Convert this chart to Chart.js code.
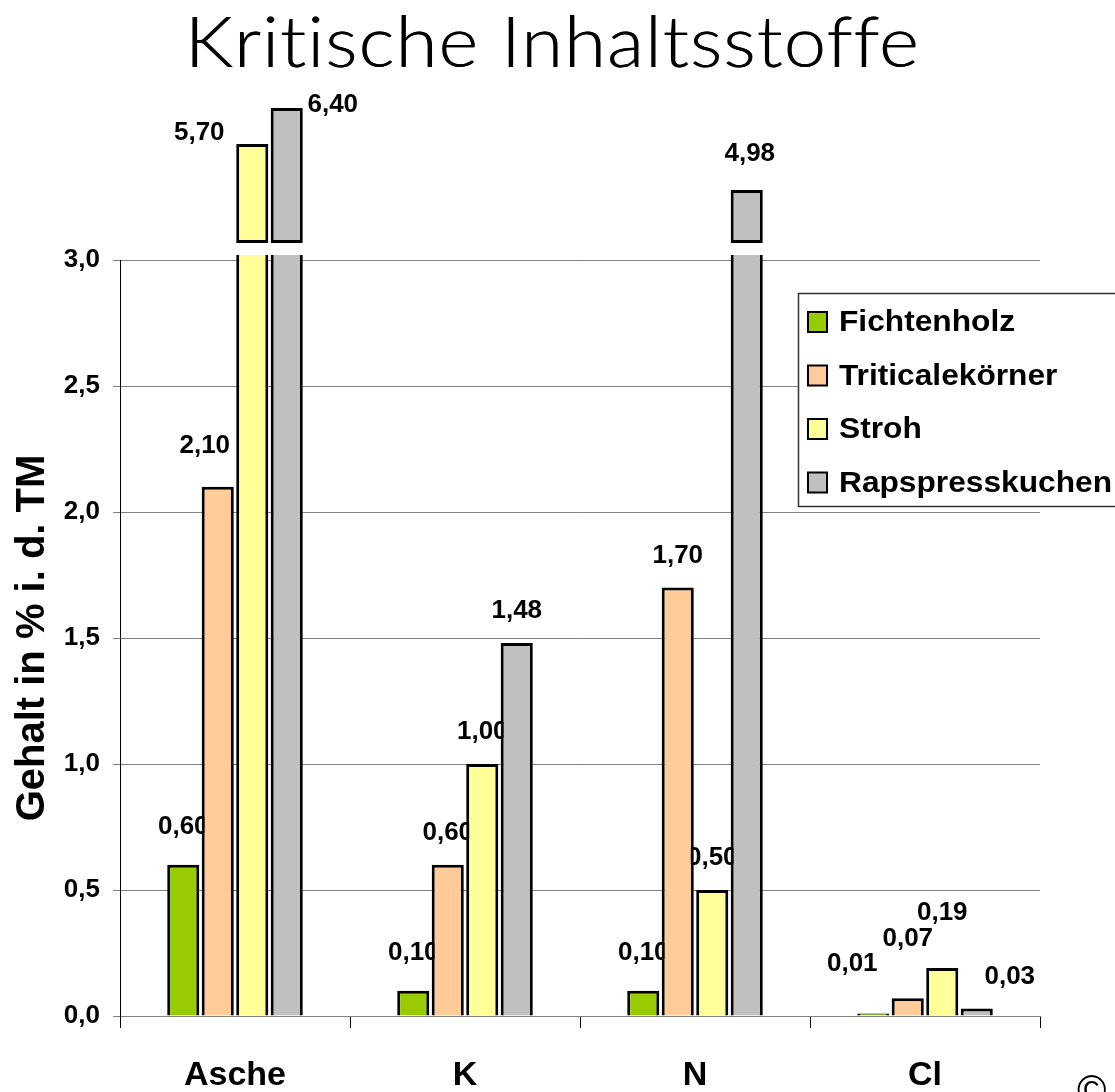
<!DOCTYPE html>
<html><head><meta charset="utf-8">
<script src="https://cdn.jsdelivr.net/npm/chart.js@4/dist/chart.umd.min.js"></script>
<style>html,body{margin:0;padding:0;background:#fff;overflow:hidden}#wrap{position:relative;width:1115px;height:1092px}</style>
</head><body><div id="wrap"><canvas id="c" width="1115" height="1092"></canvas></div>
<script>
// ---- data ----
const titleText = 'Kritische Inhaltsstoffe';
const yTitle = 'Gehalt in % i. d. TM';
const categories = ['Asche', 'K', 'N', 'Cl'];
const seriesNames = ['Fichtenholz', 'Triticalekörner', 'Stroh', 'Rapspresskuchen'];
const fichtenholz = [0.60, 0.10, 0.10, 0.01];
const triticale   = [2.10, 0.60, 1.70, 0.07];
const stroh       = [5.70, 1.00, 0.50, 0.19];
const raps        = [6.40, 1.48, 4.98, 0.03];
const yTicks = [0, 0.5, 1.0, 1.5, 2.0, 2.5, 3.0];
const axisMax = 3.0;
// broken-axis: drawn extent of the bar pieces above the break (axis units)
const breakStart = 3.067;
const fichtenholzBrokenTop = [null, null, null, null];
const triticaleBrokenTop   = [null, null, null, null];
const strohBrokenTop       = [3.46, null, null, null];
const rapsBrokenTop        = [3.603, null, 3.278, null];

const seriesValues = [fichtenholz, triticale, stroh, raps];
const seriesBroken = [fichtenholzBrokenTop, triticaleBrokenTop, strohBrokenTop, rapsBrokenTop];
const colors = ['#99CC00', '#FFCC99', '#FFFF99', '#C0C0C0'];
const FONT = "'Liberation Sans', Arial, sans-serif";

// label nudges (style), keyed "series,category": [dx, dy] of label centre relative to bar top centre
const labelNudge = {
  '0,0': [0, -38], '1,0': [-13, -41], '2,0': [-53, -11], '3,0': [46, -3],
  '0,1': [0, -38], '0,2': [0, -38], '3,2': [3, -36],
  '0,3': [-21, -50], '1,3': [0, -60], '2,3': [0, -55], '3,3': [33, -32]
};
const defaultNudge = [0, -32];

const datasets = [];
seriesNames.forEach((name, i) => {
  datasets.push({
    label: name,
    data: seriesValues[i],
    backgroundColor: colors[i],
    borderColor: '#000',
    borderWidth: 3,
    borderSkipped: 'start',
    stack: 's' + i,
    clip: {left: 0, right: 0, top: 5, bottom: 0},
    barPercentage: 0.93,
    categoryPercentage: 0.6
  });
});
seriesNames.forEach((name, i) => {
  datasets.push({
    label: name + ' (oberhalb Achsenbruch)',
    data: seriesBroken[i].map(v => v == null ? null : [breakStart, v]),
    backgroundColor: colors[i],
    borderColor: '#000',
    borderWidth: 3,
    borderSkipped: false,
    stack: 's' + i,
    clip: false,
    barPercentage: 0.93,
    categoryPercentage: 0.6
  });
});

const valueLabels = {
  id: 'valueLabels',
  beforeDatasetsDraw(chart) {
    const ctx = chart.ctx;
    ctx.save();
    ctx.font = 'bold 26px ' + FONT;
    ctx.fillStyle = '#000';
    ctx.textAlign = 'center';
    ctx.textBaseline = 'middle';
    seriesNames.forEach((n, i) => {
      const meta = chart.getDatasetMeta(i);
      const upMeta = chart.getDatasetMeta(i + seriesNames.length);
      seriesValues[i].forEach((v, j) => {
        let el = meta.data[j];
        if (v > axisMax && upMeta.data[j]) el = upMeta.data[j];
        const nd = labelNudge[i + ',' + j] || defaultNudge;
        const txt = v.toFixed(2).replace('.', ',');
        ctx.fillText(txt, el.x + nd[0], el.y + nd[1]);
      });
    });
    ctx.restore();
  }
};

const decor = {
  id: 'decor',
  afterDraw(chart) {
    const ctx = chart.ctx;
    const ca = chart.chartArea;
    ctx.save();
    // title (horizontally widened like the original face)
    ctx.font = "300 71px Lato, 'Open Sans', sans-serif";
    if ('letterSpacing' in ctx) ctx.letterSpacing = '1px';
    ctx.fillStyle = '#000';
    ctx.textBaseline = 'alphabetic';
    ctx.textAlign = 'center';
    const tw = ctx.measureText(titleText).width;
    const sx = 735 / tw;
    ctx.save();
    ctx.translate(552, 67);
    ctx.scale(sx, 1);
    ctx.fillText(titleText, 0, 0);
    ctx.fillText(titleText, 0.6, 0);
    ctx.restore();
    if ('letterSpacing' in ctx) ctx.letterSpacing = '0px';

    // legend box
    const bx = ca.right - 242, by = ca.top + 33;
    ctx.fillStyle = '#fff';
    ctx.fillRect(bx, by, 340, 214);
    ctx.strokeStyle = '#333';
    ctx.lineWidth = 1.5;
    ctx.strokeRect(bx + 0.5, by + 0.5, 340, 213);
    ctx.font = 'bold 30px ' + FONT;
    ctx.textBaseline = 'middle';
    ctx.textAlign = 'left';
    const lw = ctx.measureText('Rapspresskuchen').width;
    const lsx = 273 / lw;
    seriesNames.forEach((name, i) => {
      const cy = by + 29 + i * 53.5;
      ctx.fillStyle = colors[i];
      ctx.fillRect(bx + 10, cy - 10, 19, 20);
      ctx.strokeStyle = '#000';
      ctx.lineWidth = 2;
      ctx.strokeRect(bx + 10, cy - 10, 19, 20);
      ctx.fillStyle = '#000';
      ctx.save();
      ctx.translate(bx + 41, cy + 1);
      ctx.scale(lsx, 1);
      ctx.fillText(name, 0, 0);
      ctx.restore();
    });
    ctx.font = '40px ' + FONT;
    ctx.textBaseline = 'top';
    ctx.fillText('©', 1077, 1073);
    ctx.restore();
  }
};

new Chart(document.getElementById('c'), {
  type: 'bar',
  data: { labels: categories, datasets },
  plugins: [valueLabels, decor],
  options: {
    responsive: false,
    animation: false,
    layout: { padding: { left: 0, right: 75, top: 260, bottom: 0 } },
    plugins: {
      legend: { display: false },
      tooltip: { enabled: false },
      title: { display: false }
    },
    scales: {
      x: {
        afterFit(s) { s.height = 76; },
        grid: { drawOnChartArea: false, drawTicks: true, tickLength: 12, color: '#000', offset: true },
        border: { display: true, color: '#808080', width: 1 },
        ticks: { color: '#000', font: { family: FONT, weight: 'bold', size: 34 }, padding: 27 }
      },
      y: {
        min: 0, max: axisMax,
        stacked: false,
        afterFit(s) { s.width = 120; },
        afterBuildTicks(s) { s.ticks = yTicks.map(v => ({ value: v })); },
        grid: { color: '#808080', lineWidth: 1, tickLength: 7, drawTicks: true },
        border: { display: true, color: '#000', width: 1 },
        ticks: {
          color: '#000', padding: 13,
          font: { family: FONT, weight: 'bold', size: 26 },
          callback: v => Number(v).toFixed(1).replace('.', ',')
        },
        title: {
          display: true, text: yTitle, color: '#000',
          font: { family: FONT, weight: 'bold', size: 40 },
          padding: { top: 9, bottom: 0 }
        }
      }
    }
  }
});
</script></body></html>
